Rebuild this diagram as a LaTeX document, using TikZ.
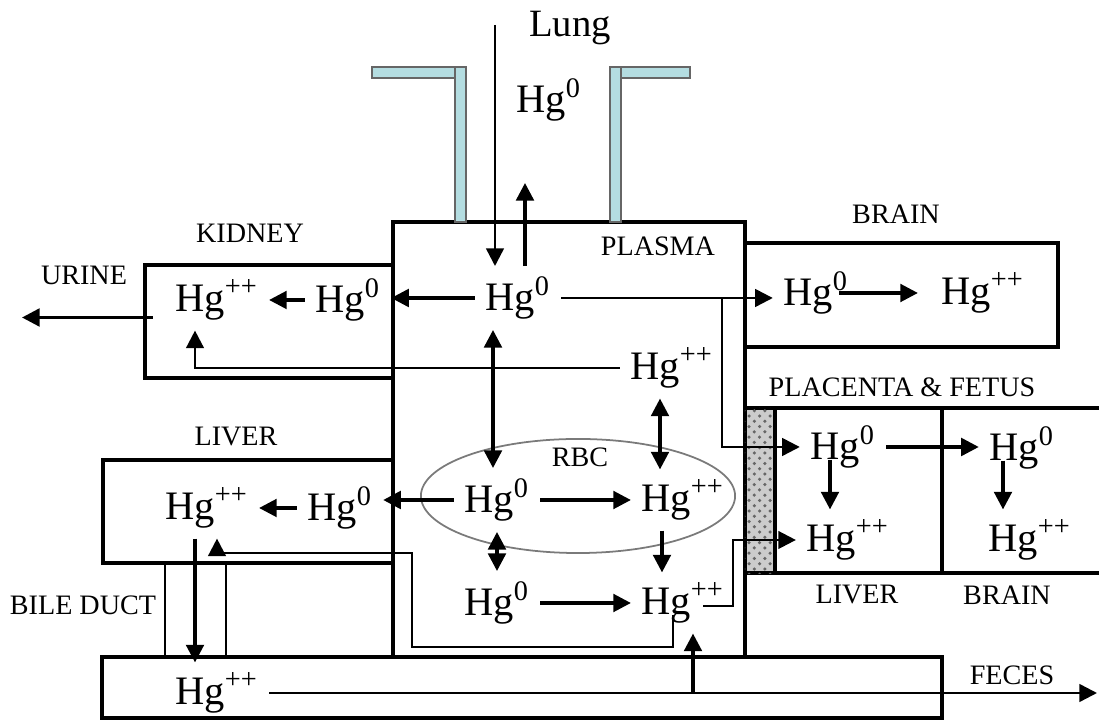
\documentclass[tikz,border=0pt]{standalone}
\usepackage{fontspec}
\setmainfont{Liberation Serif}
\usetikzlibrary{arrows.meta, shapes.geometric, calc, patterns}
\definecolor{tubeBlue}{HTML}{B4DDE1}
\definecolor{cellGray}{HTML}{7A7A7A}
\newcommand{\HgZ}{Hg\textsuperscript{0}}
\newcommand{\HgPP}{Hg\textsuperscript{++}}

\begin{document}
\begin{tikzpicture}[
  x=0.01cm, y=-0.01cm,
  every node/.style={font=\fontsize{8}{9}\selectfont, align=center},
  organ/.style={draw, line width=1.25pt, inner sep=0pt, outer sep=0pt},
  species/.style={font=\fontsize{11.5}{13}\selectfont, inner sep=0pt, outer sep=3pt},
  rbcwall/.style={draw=cellGray, ellipse, line width=0.5pt, inner sep=0pt},
  tube/.style={fill=tubeBlue, draw=black!60, line width=0.4pt},
  flow/.style={draw, -{Triangle[length=5pt, width=5pt]}, line width=0.95pt},
  twoway/.style={draw, {Triangle[length=5pt, width=5pt]}-{Triangle[length=5pt, width=5pt]}, line width=0.95pt},
  route/.style={flow, line width=0.7pt},
  duct/.style={draw, line width=0.4pt}
]

\useasboundingbox (0,0) rectangle (1099,722);

% organs
\node[organ, minimum width=3.52cm, minimum height=4.35cm] (plasma) at (569,439.5) {};
\node[organ, minimum width=2.48cm, minimum height=1.13cm] (kidney) at (269,321.5) {};
\node[organ, minimum width=3.13cm, minimum height=1.04cm] (brain) at (901.5,295) {};
\node[organ, minimum width=2.90cm, minimum height=1.03cm] (liver) at (248,511.5) {};
\node[organ, minimum width=8.40cm, minimum height=0.61cm] (gut) at (522,687.5) {};
\node[organ, fill=gray!40, postaction={pattern=crosshatch dots, pattern color=black!60},
      minimum width=0.30cm, minimum height=1.65cm] (placenta) at (760,490.5) {};
\node[organ, minimum width=1.67cm, minimum height=1.65cm] (fliver) at (858.5,490.5) {};
\node[organ, minimum width=1.62cm, minimum height=1.65cm] (fbrain) at (1023,490.5) {};
\node[rbcwall, minimum width=3.14cm, minimum height=1.14cm] (rbc) at (578,496) {};

% lung tubes
\draw[tube] (372,67) rectangle (455,78);
\draw[tube] (455,67) rectangle (466,222);
\draw[tube] (610,67) rectangle (621,222);
\draw[tube] (621,67) rectangle (690,78);

% labels
\node[font=\fontsize{11}{12}\selectfont] (lung) at (570,28) {Lung};
\node (plasmalbl) at (658,246) {PLASMA};
\node (kidneylbl) at (250,233) {KIDNEY};
\node (urinelbl) at (84,275) {URINE};
\node (brainlbl) at (896,214) {BRAIN};
\node (liverlbl) at (236,437) {LIVER};
\node (rbclbl) at (580,457) {RBC};
\node (placentalbl) at (902,387) {PLACENTA \& FETUS};
\node (fliverlbl) at (857,595) {LIVER};
\node (fbrainlbl) at (1007,595) {BRAIN};
\node (bilelbl) at (83,605) {BILE DUCT};
\node (feceslbl) at (1012,675) {FECES};

% mercury species
\node[species] (lungHg) at (549,100) {\HgZ};
\node[species] (p0) at (518,298) {\HgZ};
\node[species] (ppp) at (672,368) {\HgPP};
\node[species] (k0) at (348,300) {\HgZ};
\node[species] (kpp) at (217,300) {\HgPP};
\node[species] (b0) at (816,293) {\HgZ};
\node[species] (bpp) at (983,293) {\HgPP};
\node[species] (lv0) at (340,508) {\HgZ};
\node[species] (lvpp) at (207,508) {\HgPP};
\node[species] (rbc0) at (497,500) {\HgZ};
\node[species] (rbcpp) at (683,500) {\HgPP};
\node[species] (low0) at (497,603) {\HgZ};
\node[species] (lowpp) at (683,603) {\HgPP};
\node[species] (fl0) at (843,447) {\HgZ};
\node[species] (flpp) at (848,540) {\HgPP};
\node[species] (fb0) at (1022,448) {\HgZ};
\node[species] (fbpp) at (1030,540) {\HgPP};
\node[species] (gpp) at (217,693) {\HgPP};

% helper points
\coordinate (lungtop) at (495,25);
\coordinate (exhale) at (525,183);
\coordinate (urine) at (22,317.5);
\coordinate (split) at (722,0);
\coordinate (colA) at (493,0);
\coordinate (colB) at (660,0);
\coordinate (colC) at (662,0);
\coordinate (colK) at (195,0);
\coordinate (colL) at (217,0);
\coordinate (colD) at (195,0);
\coordinate (colE) at (830,0);
\coordinate (colF) at (1003,0);
\coordinate (loopS) at (673,615);
\coordinate (loopA) at (673,647);
\coordinate (loopB) at (412,553);
\coordinate (hookS) at (703,606);
\coordinate (hookR) at (733,606);
\coordinate (fecUp) at (693,0);
\coordinate (feces) at (1097,0);
\coordinate (ductL) at (165,0);
\coordinate (ductR) at (226,0);

% bile duct
\draw[duct] (liver.south -| ductL) -- (gut.north -| ductL);
\draw[duct] (liver.south -| ductR) -- (gut.north -| ductR);

% connectors
\draw[route] (lungtop) -- (lungtop |- p0.north);
\draw[flow] (exhale |- p0.north) -- (exhale);
\draw[flow] (p0.west) -- (p0.west -| k0.east);
\draw[flow] (k0.west) -- (kpp.east);
\draw[flow] ($(kidney.west)+(8,-4)$) -- (urine);
\draw[route] (ppp.west) -| (colK |- kpp.south);
\draw[route] (p0.east) -- (p0.east -| b0.west);
\draw[route] (p0.east -| split) |- (fl0.west);
\draw[flow] ($(b0.east)+(-20,0)$) -- ($(bpp.west)+(-13,0)$);
\draw[twoway] (colA |- p0.south) -- (colA |- rbc0.north);
\draw[twoway] (colB |- ppp.south) -- (colB |- rbcpp.north);
\draw[flow] (rbc0.east) -- (rbcpp.west);
\draw[flow] (rbc0.west) -- (rbc0.west -| lv0.east);
\draw[flow] (lv0.west) -- (lvpp.east);
\draw[twoway] (rbc0.south) -- (low0.north);
\draw[flow] (low0.east) -- (lowpp.west);
\draw[flow] (colC |- rbcpp.south) -- (colC |- lowpp.north);
\draw[route] (loopS) -- (loopA) -| (loopB) -| (colL |- lvpp.south);
\draw[route] (hookS) -- (hookR) |- (flpp.west);
\draw[flow] (fecUp |- gpp.east) -- (fecUp |- lowpp.south);
\draw[flow] (colD |- lvpp.south) -- (colD |- gpp.north);
\draw[route] (gpp.east) -- (gpp.east -| feces);
\draw[flow] (fl0.east) -- (fl0.east -| fb0.west);
\draw[flow] (colE |- fl0.base) -- (colE |- flpp.north);
\draw[flow] (colF |- fb0.base) -- (colF |- fbpp.north);

\end{tikzpicture}
\end{document}
